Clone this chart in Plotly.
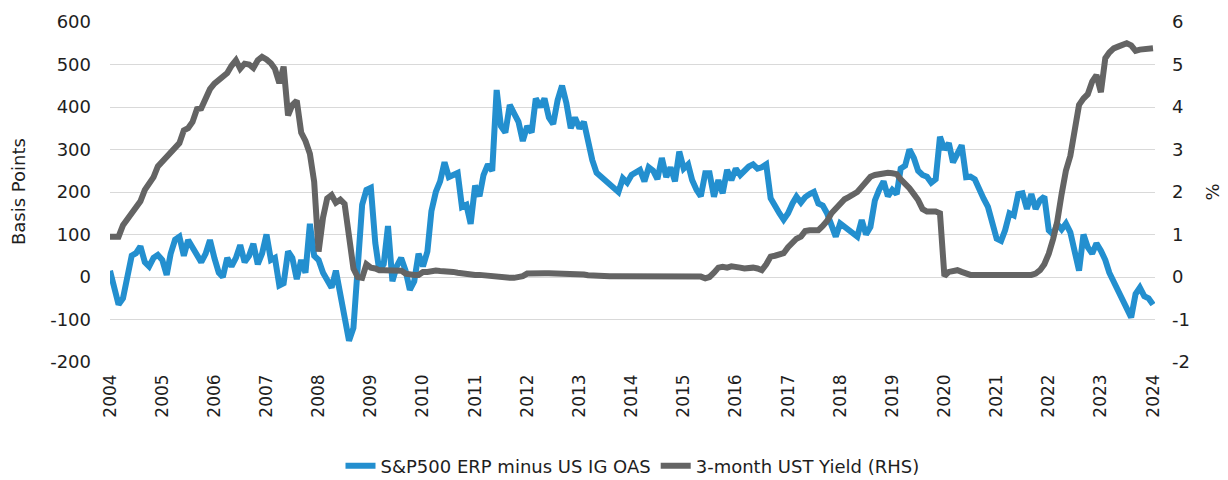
import pandas as pd
import plotly.graph_objects as go

# Monthly observations, Jan 2004 .. Jan 2024
erp_minus_oas = (
    [15, -30, -65, -50, 0, 50, 56, 72, 35, 25, 45, 52] +            # 2004
    [40, 5, 55, 88, 95, 50, 87, 70, 55, 35, 55, 87] +               # 2005
    [45, 10, 0, 45, 25, 45, 75, 35, 50, 78, 30, 55] +               # 2006
    [100, 40, 45, -20, -15, 60, 45, -5, 40, 10, 125, 50] +          # 2007
    [40, 10, -7, -25, 15, -40, -110, -150, -120, 50, 170, 205] +    # 2008
    [210, 80, 15, 30, 120, -10, 25, 45, 15, -30, -10, 55] +         # 2009
    [25, 60, 155, 200, 225, 270, 235, 240, 245, 165, 170, 125] +    # 2010
    [215, 190, 240, 265, 250, 440, 355, 340, 405, 385, 365, 320] +  # 2011
    [355, 340, 420, 400, 420, 375, 360, 416, 450, 410, 350, 375] +  # 2012
    [350, 365, 320, 275, 245, 236, 228, 222, 212, 200, 232, 222] +  # 2013
    [240, 248, 252, 225, 258, 250, 230, 280, 235, 258, 225, 295] +  # 2014
    [255, 265, 228, 205, 190, 244, 244, 189, 228, 197, 252, 228] +  # 2015
    [255, 240, 250, 260, 265, 255, 258, 265, 185, 165, 150, 135] +  # 2016
    [150, 173, 189, 175, 188, 195, 200, 173, 168, 150, 125, 95] +   # 2017
    [126, 118, 107, 100, 95, 134, 100, 118, 180, 205, 225, 190] +   # 2018
    [205, 195, 255, 262, 300, 280, 250, 240, 236, 222, 230, 330] +  # 2019
    [300, 315, 270, 290, 310, 235, 236, 230, 205, 185, 165, 130] +  # 2020
    [90, 85, 110, 150, 145, 195, 197, 160, 195, 160, 181, 189] +    # 2021
    [110, 100, 125, 112, 126, 105, 65, 15, 100, 70, 55, 79] +       # 2022
    [62, 40, 10, -10, -35, -50, -75, -95, -40, -25, -45, -50] +     # 2023
    [-65]                                                            # Jan 2024
)

ust_3m = (
    [0.95, 0.95, 0.95, 1.22, 1.35, 1.5, 1.65, 1.78, 2.05, 2.2, 2.35, 2.6] +
    [2.72, 2.85, 2.95, 3.05, 3.15, 3.45, 3.5, 3.65, 3.95, 3.97, 4.2, 4.42] +
    [4.55, 4.65, 4.72, 4.8, 4.97, 5.1, 4.9, 5.02, 5.0, 4.92, 5.1, 5.18] +
    [5.12, 5.03, 4.9, 4.56, 4.95, 3.8, 4.05, 4.15, 3.4, 3.2, 2.9, 2.24] +
    [0.6, 1.4, 1.85, 1.93, 1.75, 1.82, 1.72, 0.85, 0.2, 0.0, -0.02, 0.3] +
    [0.22, 0.2, 0.16, 0.16, 0.16, 0.16, 0.16, 0.15, 0.08, 0.05, 0.05, 0.05] +
    [0.12, 0.12, 0.14, 0.15, 0.14, 0.14, 0.12, 0.12, 0.1, 0.08, 0.06, 0.05] +
    [0.05, 0.05, 0.04, 0.03, 0.0, -0.02, -0.02, -0.02, -0.02, -0.02, -0.01, 0.02] +
    [0.08, 0.09, 0.09, 0.09, 0.09, 0.09, 0.09, 0.09, 0.09, 0.09, 0.09, 0.09] +
    [0.09, 0.06, 0.04, 0.03, 0.02, 0.02, 0.02, 0.02, 0.02, 0.02, 0.02, 0.03] +
    [0.02, 0.03, 0.02, 0.02, 0.02, 0.04, 0.02, 0.02, 0.02, 0.02, 0.02, 0.02] +
    [0.02, 0.02, 0.02, 0.02, 0.01, -0.03, 0.0, 0.1, 0.22, 0.24, 0.22, 0.25] +
    [0.22, 0.22, 0.2, 0.22, 0.22, 0.2, 0.16, 0.3, 0.48, 0.5, 0.52, 0.56] +
    [0.7, 0.8, 0.9, 0.95, 1.08, 1.1, 1.1, 1.1, 1.2, 1.32, 1.5, 1.62] +
    [1.75, 1.83, 1.88, 1.95, 2.0, 2.12, 2.22, 2.36, 2.4, 2.42, 2.44, 2.45] +
    [2.44, 2.42, 2.3, 2.2, 2.09, 1.95, 1.81, 1.6, 1.54, 1.54, 1.54, 1.5] +
    [0.02, 0.12, 0.15, 0.16, 0.12, 0.08, 0.05, 0.05, 0.05, 0.05, 0.05, 0.05] +
    [0.05, 0.04, 0.04, 0.03, 0.04, 0.04, 0.04, 0.05, 0.05, 0.08, 0.16, 0.3] +
    [0.55, 0.9, 1.3, 1.95, 2.5, 2.85, 3.45, 4.05, 4.2, 4.3, 4.6, 4.75] +
    [4.35, 5.15, 5.28, 5.38, 5.42, 5.45, 5.5, 5.45, 5.32, 5.35, 5.36, 5.38] +
    [5.38]
)

dates = pd.date_range("2004-01-01", periods=len(ust_3m), freq="MS")
year_ticks = [f"{y}-01-01" for y in range(2004, 2025)]
year_labels = [str(y) for y in range(2004, 2025)]
left_ticks = [-200, -100, 0, 100, 200, 300, 400, 500, 600]
left_labels = ["-200", "-100", "0", "100", "200", "300", "400", "500", "600"]
right_ticks = [-2, -1, 0, 1, 2, 3, 4, 5, 6]
right_labels = ["-2", "-1", "0", "1", "2", "3", "4", "5", "6"]

FONT = "DejaVu Sans"
TXT = "#1e1e1e"
FS = 18

fig = go.Figure()
fig.add_trace(go.Scatter(
    x=dates, y=erp_minus_oas, mode="lines", name="S&P500 ERP minus US IG OAS",
    line=dict(color="#238FCF", width=6), yaxis="y"))
fig.add_trace(go.Scatter(
    x=dates, y=ust_3m, mode="lines", name="3-month UST Yield (RHS)",
    line=dict(color="#646464", width=6), yaxis="y2"))

fig.update_layout(
    width=1228, height=480,
    margin=dict(l=110, r=73, t=22, b=118, autoexpand=False),
    paper_bgcolor="white", plot_bgcolor="white",
    font=dict(family=FONT, color=TXT, size=FS),
    showlegend=True,
    legend=dict(orientation="h", x=0.5, xanchor="center", y=-0.306, yanchor="middle",
                font=dict(size=FS, family=FONT, color=TXT), traceorder="normal"),
    xaxis=dict(
        type="date", range=["2004-01-01", "2024-01-15"],
        tickmode="array", tickvals=year_ticks, ticktext=year_labels,
        tickangle=-90, tickfont=dict(size=17), showgrid=False, zeroline=False,
        showline=False, ticks="", ticklabelstandoff=8),
    yaxis=dict(
        range=[-200, 600], tickmode="array", tickvals=left_ticks, ticktext=left_labels,
        showgrid=True, gridcolor="#d9d9d9", gridwidth=1, zeroline=False,
        showline=False, ticks="", tickfont=dict(size=FS), ticklabelstandoff=18),
    yaxis2=dict(
        range=[-2, 6], tickmode="array", tickvals=right_ticks, ticktext=right_labels,
        overlaying="y", side="right", showgrid=False, zeroline=False,
        showline=False, ticks="", tickfont=dict(size=FS), ticklabelstandoff=16),
    annotations=[
        dict(text="Basis Points", xref="paper", yref="paper", x=-0.088, y=0.5,
             textangle=-90, showarrow=False, font=dict(size=FS, family=FONT, color=TXT),
             xanchor="center", yanchor="middle"),
        dict(text="%", xref="paper", yref="paper", x=1.055, y=0.5,
             textangle=-90, showarrow=False, font=dict(size=FS, family=FONT, color=TXT),
             xanchor="center", yanchor="middle"),
    ],
)

fig.write_html("out.html", config={"displayModeBar": False},
               post_script="document.body.style.margin='0';")
